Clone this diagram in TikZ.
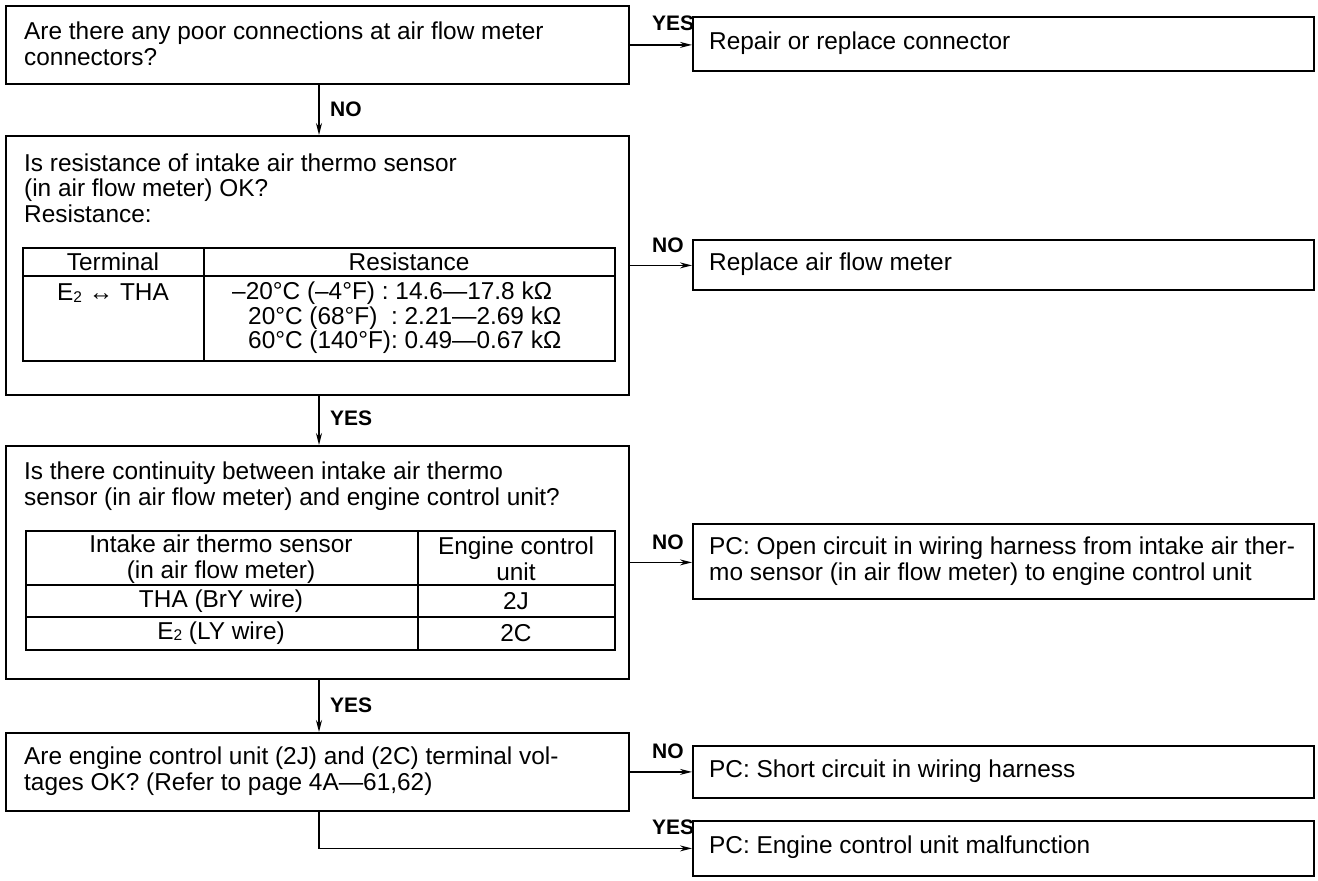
\documentclass[tikz,border=0pt]{standalone}
\usepackage{fontspec}
\setmainfont{Liberation Sans}
\usetikzlibrary{arrows.meta,calc}
\newcommand\tf{\fontsize{24.4}{25.5}\selectfont}
\newcommand\lf{\fontsize{21}{21}\selectfont\bfseries}
\newcommand\sub[1]{\raisebox{-1.5pt}{\fontsize{15.5}{15.5}\selectfont #1}}
\begin{document}
\begin{tikzpicture}[x=1pt,y=-1pt,
 box/.style={draw, line width=1.8pt, rectangle, inner sep=0pt, anchor=north west},
 tbl/.style={draw, line width=1.6pt, rectangle, inner sep=0pt, anchor=north west},
 txt/.style={font=\tf, inner sep=0pt, anchor=west, align=left},
 ctr/.style={font=\tf, inner sep=0pt, anchor=center, align=center},
 lbl/.style={font=\lf, inner sep=0pt, anchor=base west},
 arr/.style={line width=1.5pt, -{Stealth[length=12pt,width=6pt]}},
 rule/.style={line width=1.6pt}]
\fill[white] (0,0) rectangle (1318,881);
\useasboundingbox (0,0) rectangle (1318,881);
\coordinate (c) at (319,0);
% ---------- question 1
\node[box, minimum width=623pt, minimum height=78pt] (q1) at (5,5) {};
\node[txt] (q1t) at (24,44) {Are there any poor connections at air flow meter\\connectors?};
\node[box, minimum width=621pt, minimum height=54pt] (r1) at (692,16) {};
\node[txt] (r1t) at (709,43) {Repair or replace connector};
\draw[arr] (q1.east) -- (q1.east -| r1.west);
\node[lbl] (y1) at (652,30) {YES};
\draw[arr] (q1.south -| c) -- (c |- 0,135);
\node[lbl] (n1) at (330,116) {NO};
% ---------- question 2
\node[box, minimum width=623pt, minimum height=259pt] (q2) at (5,135) {};
\node[txt] (q2t) at (24,188) {Is resistance of intake air thermo sensor\\(in air flow meter) OK?\\Resistance:};
\node[tbl, minimum width=592pt, minimum height=113pt] (t1) at (22,247) {};
\draw[rule] (t1.north west) ++(182,0) coordinate (t1d) -- (t1d |- t1.south);
\draw[rule] (t1.north west) ++(0,29) coordinate (t1h) -- (t1h -| t1.east);
\node[ctr] (t1a) at (113,262) {Terminal};
\node[ctr] (t1b) at (409,262) {Resistance};
\node[ctr] (t1c) at (113,293) {E\sub{2} ↔ THA};
\node[txt] (t1r1) at (232,293) {–20°C (–4°F) : 14.6—17.8 kΩ};
\node[txt] (t1r2) at (248,318) {20°C (68°F)\ \ : 2.21—2.69 kΩ};
\node[txt] (t1r3) at (248,342) {60°C (140°F): 0.49—0.67 kΩ};
\node[box, minimum width=621pt, minimum height=50pt] (r2) at (692,239) {};
\node[txt] (r2t) at (709,264) {Replace air flow meter};
\draw[arr] (q2.east) -- (q2.east -| r2.west);
\node[lbl] (n2) at (652,252) {NO};
\draw[arr] (q2.south -| c) -- (c |- 0,445);
\node[lbl] (y2) at (330,425) {YES};
% ---------- question 3
\node[box, minimum width=623pt, minimum height=233pt] (q3) at (5,445) {};
\node[txt] (q3t) at (24,486) {Is there continuity between intake air thermo\\sensor (in air flow meter) and engine control unit?};
\node[tbl, minimum width=589pt, minimum height=119pt] (t2) at (25,530) {};
\draw[rule] (t2.north west) ++(393,0) coordinate (t2d) -- (t2d |- t2.south);
\draw[rule] (t2.north west) ++(0,55) coordinate (t2h1) -- (t2h1 -| t2.east);
\draw[rule] (t2.north west) ++(0,87) coordinate (t2h2) -- (t2h2 -| t2.east);
\node[ctr] (t2a) at (221,559) {Intake air thermo sensor\\(in air flow meter)};
\node[ctr] (t2b) at (516,559) {Engine control\\unit};
\node[ctr] (t2c) at (221,601) {THA (BrY wire)};
\node[ctr] (t2e) at (516,601) {2J};
\node[ctr] (t2f) at (221,633) {E\sub{2} (LY wire)};
\node[ctr] (t2g) at (516,633) {2C};
\node[box, minimum width=621pt, minimum height=75pt] (r3) at (692,523) {};
\node[txt] (r3t) at (709,561) {PC: Open circuit in wiring harness from intake air ther-\\mo sensor (in air flow meter) to engine control unit};
\draw[arr] (q3.east) -- (q3.east -| r3.west);
\node[lbl] (n3) at (652,549) {NO};
\draw[arr] (q3.south -| c) -- (c |- 0,732);
\node[lbl] (y3) at (330,712) {YES};
% ---------- question 4
\node[box, minimum width=623pt, minimum height=78pt] (q4) at (5,732) {};
\node[txt] (q4t) at (24,771) {Are engine control unit (2J) and (2C) terminal vol-\\tages OK? (Refer to page 4A—61,62)};
\node[box, minimum width=621pt, minimum height=52pt] (r4) at (692,745) {};
\node[txt] (r4t) at (709,771) {PC: Short circuit in wiring harness};
\draw[arr] (q4.east) -- (q4.east -| r4.west);
\node[lbl] (n4) at (652,758) {NO};
\node[box, minimum width=621pt, minimum height=55pt] (r5) at (692,820) {};
\node[txt] (r5t) at (709,847) {PC: Engine control unit malfunction};
\draw[arr] (q4.south -| c) |- (r5.west);
\node[lbl] (y4) at (652,834) {YES};
\end{tikzpicture}
\end{document}
